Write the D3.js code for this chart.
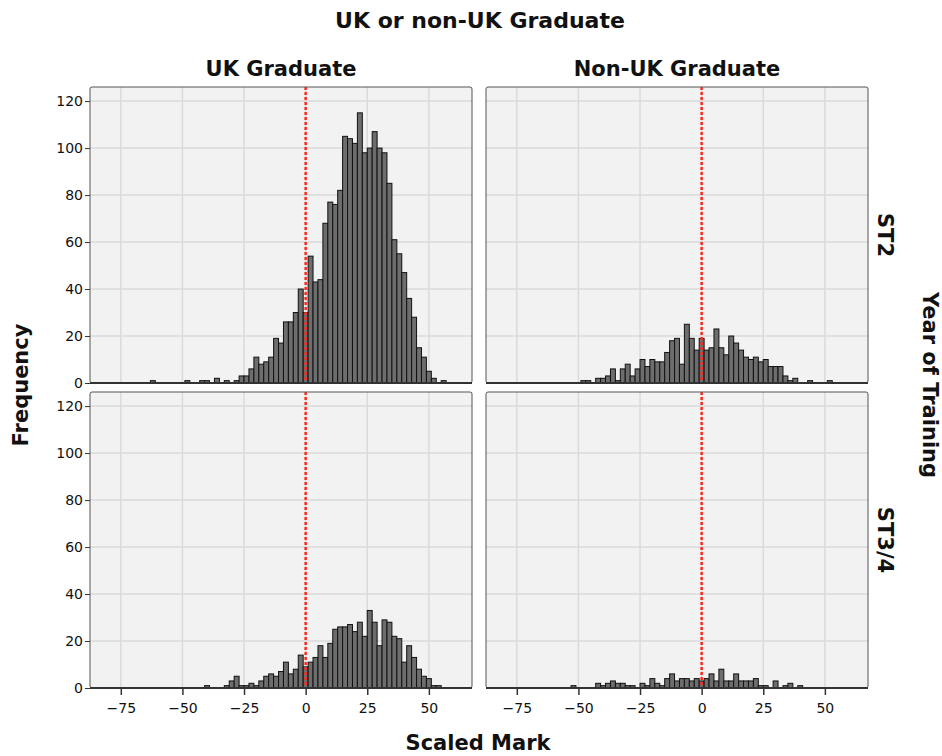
<!DOCTYPE html>
<html>
<head>
<meta charset="utf-8">
<script src="https://cdn.jsdelivr.net/npm/d3@7"></script>
<style>
  body { margin: 0; background: #fff; }
  text { font-family: "DejaVu Sans", sans-serif; fill: #111; }
</style>
</head>
<body>
<svg id="chart" width="942" height="756"></svg>
<script>
// bin centres (scaled mark) and frequencies, bin width 2
var ukST2Marks = [-62,-48,-42,-40,-36,-32,-28,-26,-24,-22,-20,-18,-16,-14,-12,-10,-8,-6,-4,-2,0,2,4,6,8,10,12,14,16,18,20,22,24,26,28,30,32,34,36,38,40,42,44,46,48,50,52,56];
var ukST2Counts = [1,1,1,1,2,1,1,3,3,6,11,8,9,11,19,17,26,26,30,40,30,54,43,44,68,77,76,82,105,104,102,115,98,100,107,100,98,85,61,55,47,36,28,15,11,5,2,1];

var nonUkST2Marks = [-48,-46,-42,-40,-38,-36,-34,-32,-30,-28,-26,-24,-22,-20,-18,-16,-14,-12,-10,-8,-6,-4,-2,0,2,4,6,8,10,12,14,16,18,20,22,24,26,28,30,32,34,36,38,44,52];
var nonUkST2Counts = [1,1,2,2,3,6,1,6,8,3,6,10,7,10,9,9,13,18,19,8,25,19,14,19,14,15,23,15,12,20,17,14,11,10,11,9,10,7,7,7,3,1,2,1,1];

var ukST34Marks = [-40,-32,-30,-28,-26,-24,-22,-20,-18,-16,-14,-12,-10,-8,-6,-4,-2,0,2,4,6,8,10,12,14,16,18,20,22,24,26,28,30,32,34,36,38,40,42,44,46,48,50,52,54];
var ukST34Counts = [1,1,3,5,1,1,2,1,3,5,6,5,7,11,6,8,14,9,11,13,18,13,19,25,26,26,27,24,28,22,33,28,18,29,28,22,21,11,18,13,8,5,4,1,1];

var nonUkST34Marks = [-52,-42,-40,-38,-36,-34,-32,-30,-28,-24,-22,-20,-18,-16,-14,-12,-10,-8,-6,-4,-2,0,2,4,6,8,10,12,14,16,18,20,22,24,26,30,34,36,40];
var nonUkST34Counts = [1,2,1,2,3,2,2,1,1,2,1,4,2,1,4,6,3,4,4,3,4,3,4,6,3,8,3,3,6,3,3,3,4,1,1,3,1,2,1];

var xTicks = [-75, -50, -25, 0, 25, 50];
var yTicks = [0, 20, 40, 60, 80, 100, 120];
var colLabels = ["UK Graduate", "Non-UK Graduate"];
var rowLabels = ["ST2", "ST3/4"];
var binWidth = 2;

var panels = [
  {col: 0, row: 0, marks: ukST2Marks, counts: ukST2Counts},
  {col: 1, row: 0, marks: nonUkST2Marks, counts: nonUkST2Counts},
  {col: 0, row: 1, marks: ukST34Marks, counts: ukST34Counts},
  {col: 1, row: 1, marks: nonUkST34Marks, counts: nonUkST34Counts}
];

var colX = [90, 486], panelW = 382;
var rowY = [87, 392], panelH = 296;

var svg = d3.select("#chart");

var x = d3.scaleLinear().domain([-87.5, 67.5]).range([0, panelW]);
var y = d3.scaleLinear().domain([0, 126]).range([panelH, 0]);

panels.forEach(function(p) {
  var g = svg.append("g")
    .attr("transform", "translate(" + colX[p.col] + "," + rowY[p.row] + ")");

  g.append("rect")
    .attr("width", panelW).attr("height", panelH)
    .attr("fill", "#f2f2f2");

  g.selectAll(".vgrid").data(xTicks).enter().append("line")
    .attr("x1", d => x(d)).attr("x2", d => x(d))
    .attr("y1", 0).attr("y2", panelH)
    .attr("stroke", "#dadada").attr("stroke-width", 1.5);

  g.selectAll(".hgrid").data(yTicks.slice(1)).enter().append("line")
    .attr("x1", 0).attr("x2", panelW)
    .attr("y1", d => y(d)).attr("y2", d => y(d))
    .attr("stroke", "#dadada").attr("stroke-width", 1.5);

  var data = p.marks.map(function(m, i) { return {mark: m, count: p.counts[i]}; })
    .filter(d => d.count > 0);

  g.selectAll(".bar").data(data).enter().append("rect")
    .attr("x", d => x(d.mark - binWidth / 2))
    .attr("width", x(binWidth) - x(0))
    .attr("y", d => y(d.count))
    .attr("height", d => y(0) - y(d.count))
    .attr("fill", "#6d6d6d")
    .attr("stroke", "#111")
    .attr("stroke-width", 1);

  g.append("line")
    .attr("x1", x(0)).attr("x2", x(0))
    .attr("y1", 0).attr("y2", panelH)
    .attr("stroke", "#ff2a1a").attr("stroke-width", 2.5)
    .attr("stroke-dasharray", "3,2");

  g.append("rect")
    .attr("width", panelW).attr("height", panelH)
    .attr("fill", "none").attr("stroke", "#555").attr("stroke-width", 1)
    .attr("rx", 2);

  g.append("line")
    .attr("x1", 0).attr("x2", panelW)
    .attr("y1", panelH).attr("y2", panelH)
    .attr("stroke", "#333").attr("stroke-width", 2);

  if (p.col === 0) {
    var ya = g.append("g")
      .call(d3.axisLeft(y).tickValues(yTicks).tickSize(5).tickPadding(2));
    ya.select(".domain").remove();
    ya.selectAll("line").attr("stroke", "#333");
    ya.selectAll("text").style("font-size", "14px").style("font-family", "DejaVu Sans");
  }
  if (p.row === 1) {
    var xa = g.append("g")
      .attr("transform", "translate(0," + panelH + ")")
      .call(d3.axisBottom(x).tickValues(xTicks).tickSize(7).tickPadding(8));
    xa.select(".domain").remove();
    xa.selectAll("line").attr("stroke", "#333").attr("stroke-width", 1.5);
    xa.selectAll("text").style("font-size", "14px").style("font-family", "DejaVu Sans");
  }
});

// titles
svg.append("text")
  .attr("x", 480).attr("y", 28)
  .attr("text-anchor", "middle")
  .style("font-size", "22px").style("font-weight", "bold")
  .text("UK or non-UK Graduate");

colLabels.forEach(function(t, i) {
  svg.append("text")
    .attr("x", colX[i] + panelW / 2).attr("y", 76)
    .attr("text-anchor", "middle")
    .style("font-size", "21px").style("font-weight", "bold")
    .text(t);
});

rowLabels.forEach(function(t, i) {
  svg.append("text")
    .attr("transform", "translate(878," + (rowY[i] + panelH / 2) + ") rotate(90)")
    .attr("text-anchor", "middle")
    .style("font-size", "21px").style("font-weight", "bold")
    .text(t);
});

svg.append("text")
  .attr("transform", "translate(923,385) rotate(90)")
  .attr("text-anchor", "middle")
  .style("font-size", "21px").style("font-weight", "bold")
  .text("Year of Training");

svg.append("text")
  .attr("transform", "translate(28,385) rotate(-90)")
  .attr("text-anchor", "middle")
  .style("font-size", "21px").style("font-weight", "bold")
  .text("Frequency");

svg.append("text")
  .attr("x", 478).attr("y", 750)
  .attr("text-anchor", "middle")
  .style("font-size", "21px").style("font-weight", "bold")
  .text("Scaled Mark");
</script>
</body>
</html>
